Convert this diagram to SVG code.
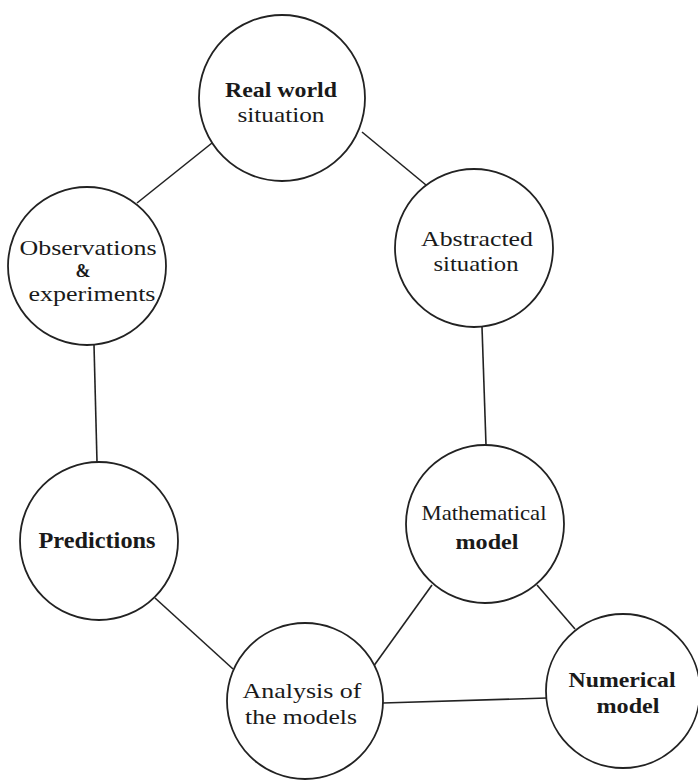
<svg xmlns="http://www.w3.org/2000/svg" width="698" height="781" viewBox="0 0 698 781">
<style>
.c{fill:#fff;stroke:#222;stroke-width:1.8}
.l{stroke:#222;stroke-width:1.6;fill:none}
text{font-family:"Liberation Serif","Times New Roman",serif;font-size:22px;fill:#1a1a1a;text-anchor:middle}
.b{font-weight:bold}
.amp{font-size:18px;font-weight:bold}
</style>
<rect width="698" height="781" fill="#fff"/>
<g id="connectors">
<line class="l" x1="137" y1="203" x2="212" y2="143"/>
<line class="l" x1="362" y1="132" x2="426" y2="185"/>
<line class="l" x1="482" y1="327" x2="486" y2="445"/>
<line class="l" x1="94" y1="345" x2="97" y2="462"/>
<line class="l" x1="155" y1="598" x2="233" y2="669"/>
<line class="l" x1="432" y1="585" x2="373" y2="667"/>
<line class="l" x1="537" y1="585" x2="575" y2="629"/>
<line class="l" x1="383" y1="703" x2="547" y2="698"/>
</g>
<g id="real-world">
<circle class="c" cx="282" cy="98" r="83"/>
<text class="b" x="281" y="97" textLength="112" lengthAdjust="spacingAndGlyphs">Real world</text>
<text x="281" y="122" textLength="87" lengthAdjust="spacingAndGlyphs">situation</text>
</g>
<g id="observations">
<circle class="c" cx="87" cy="266" r="79"/>
<text x="88" y="255" textLength="137" lengthAdjust="spacingAndGlyphs">Observations</text>
<text class="amp" x="83" y="277">&amp;</text>
<text x="92" y="301" textLength="127" lengthAdjust="spacingAndGlyphs">experiments</text>
</g>
<g id="abstracted">
<circle class="c" cx="474" cy="248" r="79"/>
<text x="477" y="246" textLength="112" lengthAdjust="spacingAndGlyphs">Abstracted</text>
<text x="476" y="271" textLength="85" lengthAdjust="spacingAndGlyphs">situation</text>
</g>
<g id="predictions">
<circle class="c" cx="99" cy="541" r="79"/>
<text class="b" x="97" y="548" style="font-size:24px" textLength="117" lengthAdjust="spacingAndGlyphs">Predictions</text>
</g>
<g id="mathematical">
<circle class="c" cx="485" cy="524" r="79"/>
<text x="484" y="520" textLength="125" lengthAdjust="spacingAndGlyphs">Mathematical</text>
<text class="b" x="487" y="549" textLength="63" lengthAdjust="spacingAndGlyphs">model</text>
</g>
<g id="analysis">
<circle class="c" cx="305" cy="701" r="78"/>
<text x="302" y="698" textLength="119" lengthAdjust="spacingAndGlyphs">Analysis of</text>
<text x="301" y="724" textLength="112" lengthAdjust="spacingAndGlyphs">the models</text>
</g>
<g id="numerical">
<circle class="c" cx="623" cy="691" r="77"/>
<text class="b" x="622" y="687" textLength="107" lengthAdjust="spacingAndGlyphs">Numerical</text>
<text class="b" x="628" y="713" textLength="63" lengthAdjust="spacingAndGlyphs">model</text>
</g>
</svg>
